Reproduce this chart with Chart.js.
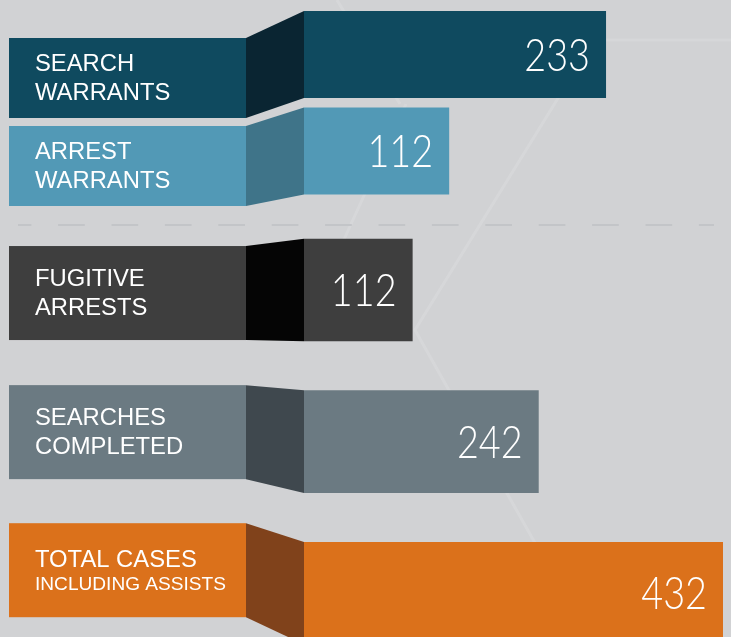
<!DOCTYPE html>
<html><head><meta charset="utf-8">
<script src="https://cdn.jsdelivr.net/npm/chart.js@4.4.1/dist/chart.umd.min.js"></script>
<style>html,body{margin:0;padding:0;background:#d1d2d4;overflow:hidden}#wrap{width:731px;height:637px;position:relative;overflow:hidden}canvas{display:block}</style>
</head><body><div id="wrap"><canvas id="c" width="731" height="669"></canvas></div>
<script>
// ---- data ----
const topCategories = [['SEARCH', 'WARRANTS'], ['ARREST', 'WARRANTS']];
const topValues = [233, 112];
const bottomCategories = [['FUGITIVE', 'ARRESTS'], ['SEARCHES', 'COMPLETED'], ['TOTAL CASES', 'INCLUDING ASSISTS']];
const bottomValues = [112, 242, 432];

// ---- style ----
const topColors = ['#0f4a5f', '#5299b6'];
const topSideColors = ['#0a2532', '#3f7489'];
const bottomColors = ['#3e3e3e', '#6b7a82', '#db711b'];
const bottomSideColors = ['#050505', '#3f484e', '#80421b'];
// label box vertical extent relative to bar centre [topOffset, bottomOffset]
const topBoxOffsets = [[-16.5, 63.5], [-25, 55]];
const bottomBoxOffsets = [[-44, 50], [-56.5, 37.5], [-70, 24]];
const STYLE = {
  bg: '#d1d2d4', boxLeft: 9, boxRight: 246, textLeft: 35,
  labelFont: '"Liberation Sans", Arial, sans-serif', labelSize: 23.8, smallSize: 19.1,
  numFont: 'Lato, "Open Sans", sans-serif', numSize: 45, numScaleX: 0.84, numPad: 16,
  dividerY: 225, dividerX0: 18, dividerX1: 714
};
const bgLines = [
  [[337, 0], [400, 104]],
  [[406, 104], [330, 270]],
  [[560, 95], [415, 330], [588, 637]],
  [[560, 40], [731, 40]]
];

function rowsFor(chart) {
  const rows = [];
  const m0 = chart.getDatasetMeta(0), m1 = chart.getDatasetMeta(1);
  m0.data.forEach((el, i) => rows.push({el, color: topColors[i], side: topSideColors[i], off: topBoxOffsets[i], lines: topCategories[i], value: topValues[i], small: false}));
  m1.data.forEach((el, i) => rows.push({el, color: bottomColors[i], side: bottomSideColors[i], off: bottomBoxOffsets[i], lines: bottomCategories[i], value: bottomValues[i], small: i === 2}));
  return rows;
}

const infographic = {
  id: 'infographic',
  beforeDraw(chart) {
    const ctx = chart.ctx;
    ctx.save();
    ctx.fillStyle = STYLE.bg;
    ctx.fillRect(0, 0, chart.width, chart.height);
    ctx.strokeStyle = 'rgba(255,255,255,0.12)';
    ctx.lineWidth = 3;
    bgLines.forEach(pts => {
      ctx.beginPath();
      pts.forEach((p, i) => i ? ctx.lineTo(p[0], p[1]) : ctx.moveTo(p[0], p[1]));
      ctx.stroke();
    });
    ctx.strokeStyle = '#c3c5c8';
    ctx.lineWidth = 2;
    ctx.setLineDash([26.7, 26.7]);
    ctx.lineDashOffset = 13.3;
    ctx.beginPath();
    ctx.moveTo(STYLE.dividerX0, STYLE.dividerY);
    ctx.lineTo(STYLE.dividerX1, STYLE.dividerY);
    ctx.stroke();
    ctx.restore();
  },
  afterDatasetsDraw(chart) {
    const ctx = chart.ctx;
    ctx.save();
    rowsFor(chart).forEach(r => {
      const el = r.el;
      const cy = el.y, h = el.height;
      const bTop = cy - h / 2, bBot = cy + h / 2;
      const boxTop = cy + r.off[0], boxBot = cy + r.off[1];
      ctx.fillStyle = r.color;
      ctx.fillRect(STYLE.boxLeft, boxTop, STYLE.boxRight - STYLE.boxLeft, boxBot - boxTop);
      ctx.fillStyle = r.side;
      ctx.beginPath();
      ctx.moveTo(STYLE.boxRight, boxTop);
      ctx.lineTo(el.base, bTop);
      ctx.lineTo(el.base, bBot);
      ctx.lineTo(STYLE.boxRight, boxBot);
      ctx.closePath();
      ctx.fill();
      const bc = (boxTop + boxBot) / 2;
      ctx.fillStyle = '#ffffff';
      ctx.textAlign = 'left';
      ctx.textBaseline = 'alphabetic';
      if (r.small) {
        ctx.font = `${STYLE.labelSize}px ${STYLE.labelFont}`;
        ctx.fillText(r.lines[0], STYLE.textLeft, bc - 3.3);
        ctx.font = `${STYLE.smallSize}px ${STYLE.labelFont}`;
        ctx.fillText(r.lines[1], STYLE.textLeft, bc + 19.3);
      } else {
        ctx.font = `${STYLE.labelSize}px ${STYLE.labelFont}`;
        ctx.fillText(r.lines[0], STYLE.textLeft, bc - 7);
        ctx.fillText(r.lines[1], STYLE.textLeft, bc + 22);
      }
      ctx.save();
      ctx.translate(el.x - STYLE.numPad, cy + 16);
      ctx.scale(STYLE.numScaleX, 1);
      ctx.font = `300 ${STYLE.numSize}px ${STYLE.numFont}`;
      ctx.textAlign = 'right';
      ctx.fillText(String(r.value), 0, 0);
      ctx.restore();
    });
    ctx.restore();
  }
};

function build() {
  new Chart(document.getElementById('c'), {
    type: 'bar',
    data: {
      datasets: [
        {data: topValues, xAxisID: 'xTop', yAxisID: 'yTop', backgroundColor: topColors,
         categoryPercentage: 1, barPercentage: 0.9, grouped: false, borderWidth: 0},
        {data: bottomValues, xAxisID: 'xBot', yAxisID: 'yBot', backgroundColor: bottomColors,
         categoryPercentage: 1, barPercentage: 0.677, grouped: false, borderWidth: 0}
      ]
    },
    options: {
      indexAxis: 'y',
      responsive: false,
      animation: false,
      devicePixelRatio: 1,
      events: [],
      layout: {padding: {left: 304, right: 0, top: 6.25, bottom: 0}},
      plugins: {legend: {display: false}, tooltip: {enabled: false}},
      scales: {
        yTop: {type: 'category', axis: 'y', position: 'left', labels: topCategories, offset: true,
               stack: 'rows', stackWeight: 193, weight: 3, display: false},
        yGap: {type: 'category', axis: 'y', position: 'left', labels: [''], offset: true,
               stack: 'rows', stackWeight: 15, weight: 2, display: false},
        yBot: {type: 'category', axis: 'y', position: 'left', labels: bottomCategories, offset: true,
               stack: 'rows', stackWeight: 454.75, weight: 1, display: false},
        xTop: {type: 'linear', axis: 'x', position: 'bottom', min: 0, max: 329.4, display: false},
        xBot: {type: 'linear', axis: 'x', position: 'bottom', min: 0, max: 440.25, display: false}
      }
    },
    plugins: [infographic]
  });
}
const fontLoads = [
  document.fonts.load('300 45px Lato'),
  document.fonts.load('23px "Liberation Sans"')
];
Promise.all(fontLoads).catch(() => {}).then(build);
</script>
</body></html>
